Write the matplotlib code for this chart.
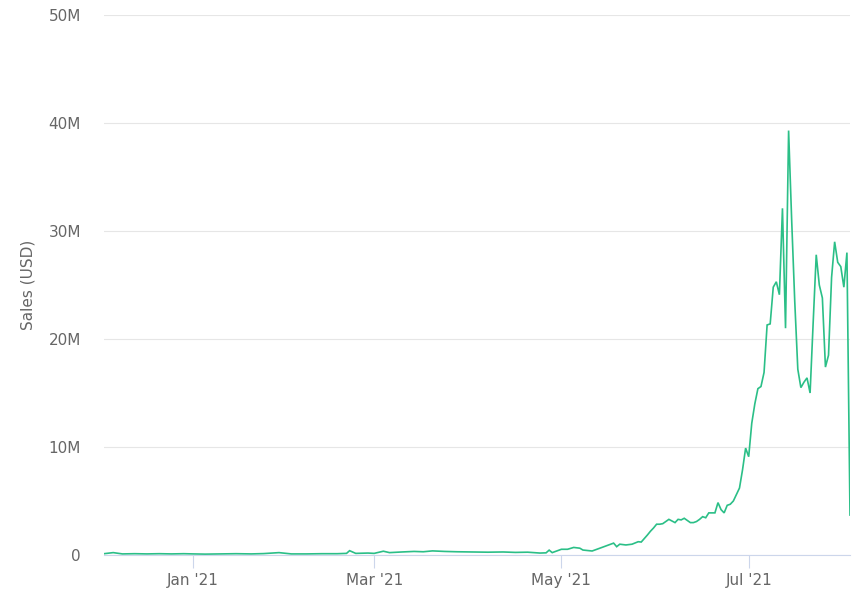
import pandas as pd
import matplotlib
matplotlib.use('Agg')
import matplotlib.pyplot as plt
from matplotlib.ticker import FuncFormatter

# ------------------------------------------
# Data (sales, millions USD)
# ------------------------------------------
dates = [
    "2020-12-03", "2020-12-06", "2020-12-09", "2020-12-13", "2020-12-17",
    "2020-12-21", "2020-12-25", "2020-12-29", "2021-01-01", "2021-01-05",
    "2021-01-10", "2021-01-15", "2021-01-20", "2021-01-24", "2021-01-29",
    "2021-02-02", "2021-02-07", "2021-02-12", "2021-02-17", "2021-02-20",
    "2021-02-21", "2021-02-23", "2021-02-27", "2021-03-01", "2021-03-04",
    "2021-03-06", "2021-03-10", "2021-03-14", "2021-03-17", "2021-03-20",
    "2021-03-24", "2021-03-28", "2021-04-02", "2021-04-07", "2021-04-12",
    "2021-04-16", "2021-04-20", "2021-04-24", "2021-04-26", "2021-04-27",
    "2021-04-28", "2021-05-01", "2021-05-03", "2021-05-05", "2021-05-07",
    "2021-05-08", "2021-05-11", "2021-05-14", "2021-05-18", "2021-05-19",
    "2021-05-20", "2021-05-22", "2021-05-24", "2021-05-26", "2021-05-27",
    "2021-05-29", "2021-05-30", "2021-05-31", "2021-06-01", "2021-06-02",
    "2021-06-03", "2021-06-04", "2021-06-05", "2021-06-06", "2021-06-07",
    "2021-06-08", "2021-06-09", "2021-06-10", "2021-06-11", "2021-06-12",
    "2021-06-13", "2021-06-14", "2021-06-15", "2021-06-16", "2021-06-17",
    "2021-06-18", "2021-06-19", "2021-06-20", "2021-06-21", "2021-06-22",
    "2021-06-23", "2021-06-24", "2021-06-25", "2021-06-26", "2021-06-27",
    "2021-06-28", "2021-06-29", "2021-06-30", "2021-07-01", "2021-07-02",
    "2021-07-03", "2021-07-04", "2021-07-05", "2021-07-06", "2021-07-07",
    "2021-07-08", "2021-07-09", "2021-07-10", "2021-07-11", "2021-07-12",
    "2021-07-13", "2021-07-14", "2021-07-15", "2021-07-16", "2021-07-17",
    "2021-07-18", "2021-07-19", "2021-07-20", "2021-07-21", "2021-07-22",
    "2021-07-23", "2021-07-24", "2021-07-25", "2021-07-26", "2021-07-27",
    "2021-07-28", "2021-07-29", "2021-07-30", "2021-07-31", "2021-08-01",
    "2021-08-02", "2021-08-03",
]
sales_m = [
    0.12, 0.22, 0.10, 0.12, 0.10,
    0.12, 0.10, 0.12, 0.10, 0.08,
    0.10, 0.12, 0.10, 0.13, 0.22,
    0.10, 0.10, 0.12, 0.12, 0.15,
    0.40, 0.15, 0.18, 0.15, 0.35,
    0.22, 0.28, 0.33, 0.30, 0.38,
    0.33, 0.30, 0.28, 0.26, 0.28,
    0.24, 0.26, 0.18, 0.20, 0.45,
    0.22, 0.53, 0.53, 0.70, 0.63,
    0.46, 0.37, 0.68, 1.10, 0.77,
    1.00, 0.93, 1.00, 1.23, 1.20,
    1.85, 2.20, 2.50, 2.85, 2.85,
    2.90, 3.10, 3.30, 3.15, 3.00,
    3.30, 3.25, 3.40, 3.20, 3.00,
    3.00, 3.10, 3.30, 3.55, 3.45,
    3.90, 3.90, 3.90, 4.85, 4.20,
    3.90, 4.60, 4.70, 5.00, 5.60,
    6.20, 7.90, 9.90, 9.10, 12.2,
    14.0, 15.4, 15.6, 16.9, 21.3,
    21.4, 24.8, 25.3, 24.1, 32.1,
    21.0, 39.3, 31.0, 23.5, 17.2,
    15.5, 16.0, 16.4, 15.0, 21.5,
    27.8, 25.0, 23.8, 17.4, 18.5,
    25.7, 29.0, 27.1, 26.7, 24.8,
    28.0, 3.7,
]

x = pd.to_datetime(dates)
y = [v * 1e6 for v in sales_m]

tick_dates = pd.to_datetime(["2021-01-01", "2021-03-01", "2021-05-01", "2021-07-01"])
tick_labels = ["Jan '21", "Mar '21", "May '21", "Jul '21"]

# ------------------------------------------
# Figure
# ------------------------------------------
fig = plt.figure(figsize=(8.64, 6.06), dpi=100)
ax = fig.add_axes([104 / 864, 51 / 606, 746 / 864, 540 / 606])

ax.plot(x, y, color='#2bbf87', lw=1.2, solid_joinstyle='miter')

ax.set_xlim(pd.Timestamp("2020-12-03"), pd.Timestamp("2021-08-03"))
ax.set_ylim(0, 50e6)

ax.set_yticks([0, 10e6, 20e6, 30e6, 40e6, 50e6])
ax.yaxis.set_major_formatter(FuncFormatter(lambda v, p: "0" if v == 0 else f"{int(v / 1e6)}M"))
ax.set_xticks(tick_dates)
ax.set_xticklabels(tick_labels)

ax.grid(axis='y', color='#e6e6e6', lw=0.8)
ax.set_axisbelow(True)
for s in ['top', 'right', 'left']:
    ax.spines[s].set_visible(False)
ax.spines['bottom'].set_color('#ccd6eb')
ax.spines['bottom'].set_linewidth(0.8)

ax.tick_params(axis='y', length=0, pad=16.5, labelsize=11, labelcolor='#666666')
ax.tick_params(axis='x', length=9, width=0.8, color='#ccd6eb', pad=4,
               labelsize=11, labelcolor='#666666')

ax.set_ylabel("Sales (USD)", fontsize=11, color='#666666', labelpad=9.5)

fig.savefig("out.png", dpi=100)
